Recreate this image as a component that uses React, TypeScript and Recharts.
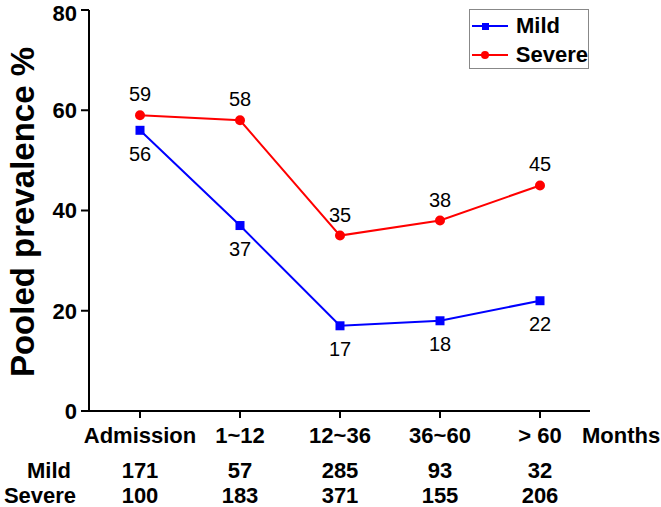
import { LineChart, Line, XAxis, YAxis, Legend, LabelList } from 'recharts';

const categories = ['Admission', '1~12', '12~36', '36~60', '> 60'];
const mildValues = [56, 37, 17, 18, 22];
const severeValues = [59, 58, 35, 38, 45];
const mildCounts = [171, 57, 285, 93, 32];
const severeCounts = [100, 183, 371, 155, 206];
const yTicks = [0, 20, 40, 60, 80];

const data = categories.map((name, i) => ({
  name,
  mild: mildValues[i],
  severe: severeValues[i],
}));

const FONT = '"Liberation Sans", Arial, Helvetica, sans-serif';
const BLUE = '#0000ff';
const RED = '#ff0000';

function SquareDot({ cx, cy }: { cx?: number; cy?: number }) {
  if (cx == null || cy == null) return null;
  return <rect x={cx - 4.5} y={cy - 4.5} width={9} height={9} fill={BLUE} />;
}

function CircleDot({ cx, cy }: { cx?: number; cy?: number }) {
  if (cx == null || cy == null) return null;
  return <circle cx={cx} cy={cy} r={5} fill={RED} />;
}

function CategoryTick({ x, y, payload, index }: any) {
  return (
    <g fontFamily={FONT} fontWeight="bold" fontSize={22} fill="#000" textAnchor="middle">
      <text x={x} y={y + 25}>{payload.value}</text>
      <text x={x} y={y + 60}>{mildCounts[index]}</text>
      <text x={x} y={y + 85}>{severeCounts[index]}</text>
    </g>
  );
}

function AxisExtras() {
  return (
    <g fontFamily={FONT} fontWeight="bold" fontSize={22} fill="#000">
      <text x={582} y={443}>Months</text>
      <text x={49} y={478} textAnchor="middle">Mild</text>
      <text x={40} y={503} textAnchor="middle">Severe</text>
    </g>
  );
}

function YTitle() {
  return (
    <text
      x={22}
      y={212}
      transform="rotate(-90 22 212)"
      textAnchor="middle"
      dominantBaseline="central"
      fontFamily={FONT}
      fontWeight="bold"
      fontSize={33}
      fill="#000"
    >
      Pooled prevalence %
    </text>
  );
}

function LegendBox() {
  const row = (label: string, color: string, square: boolean) => (
    <div style={{ display: 'flex', alignItems: 'center', height: 29 }}>
      <svg width={38} height={12} style={{ marginRight: 6 }}>
        <line x1={0} y1={6} x2={36} y2={6} stroke={color} strokeWidth={2} />
        {square ? <rect x={10} y={3} width={7} height={7} fill={color} /> : <circle cx={13} cy={6} r={4} fill={color} />}
      </svg>
      <span style={{ fontFamily: FONT, fontWeight: 'bold', fontSize: 22, color: '#000' }}>{label}</span>
    </div>
  );
  return (
    <div style={{ border: '1px solid #888', width: 120, height: 60, boxSizing: 'border-box', paddingTop: 1, paddingLeft: 2, background: '#fff' }}>
      {row('Mild', BLUE, true)}
      {row('Severe', RED, false)}
    </div>
  );
}

export default function App() {
  return (
    <div style={{ position: 'absolute', left: 0, top: 0, background: '#fff' }}>
      <LineChart width={661} height={507} data={data} margin={{ top: 10, right: 71, bottom: 0, left: 0 }}>
        <XAxis
          dataKey="name"
          interval={0}
          padding={{ left: 51, right: 50 }}
          height={96}
          tickSize={7}
          tickMargin={0}
          axisLine={{ stroke: '#000', strokeWidth: 2 }}
          tickLine={{ stroke: '#000', strokeWidth: 2 }}
          tick={<CategoryTick />}
          label={<AxisExtras />}
        />
        <YAxis
          domain={[0, 80]}
          ticks={yTicks}
          width={89}
          tickSize={8}
          tickMargin={4}
          axisLine={{ stroke: '#000', strokeWidth: 2 }}
          tickLine={{ stroke: '#000', strokeWidth: 2 }}
          tick={{ fontFamily: FONT, fontWeight: 'bold', fontSize: 22, fill: '#000' }}
          label={<YTitle />}
        />
        <Legend
          layout="vertical"
          align="center"
          verticalAlign="middle"
          content={<LegendBox />}
          wrapperStyle={{ position: 'absolute', left: 469, top: 9, width: 120, height: 60 }}
        />
        <Line
          type="linear"
          dataKey="severe"
          stroke={RED}
          strokeWidth={2}
          dot={<CircleDot />}
          activeDot={false}
          isAnimationActive={false}
        >
          <LabelList dataKey="severe" position="top" offset={14} fontFamily={FONT} fontSize={20} fill="#000" />
        </Line>
        <Line
          type="linear"
          dataKey="mild"
          stroke={BLUE}
          strokeWidth={2}
          dot={<SquareDot />}
          activeDot={false}
          isAnimationActive={false}
        >
          <LabelList dataKey="mild" position="bottom" offset={16} fontFamily={FONT} fontSize={20} fill="#000" />
        </Line>
      </LineChart>
    </div>
  );
}
